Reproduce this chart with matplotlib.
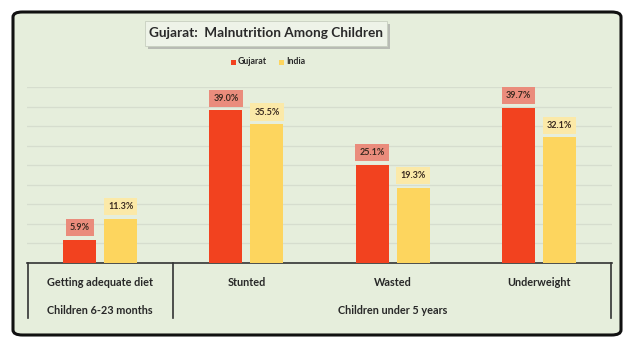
import matplotlib
matplotlib.use("Agg")
import matplotlib.pyplot as plt
import matplotlib.transforms as mtransforms
from matplotlib.patches import FancyBboxPatch
import numpy as np

categories = ["Getting adequate diet", "Stunted", "Wasted", "Underweight"]
groups = ["Children 6-23 months", "Children under 5 years"]
gujarat = [5.9, 39.0, 25.1, 39.7]
india = [11.3, 35.5, 19.3, 32.1]

red = "#f2421f"
yellow = "#fdd55e"
red_lbl = "#ea8c7c"
yel_lbl = "#fbe9a8"
bg = "#e6eedc"
txt = "#282828"

plt.rcParams["font.family"] = ["Lato", "DejaVu Sans"]

W, H = 628, 338
fig = plt.figure(figsize=(W / 100, H / 100), dpi=100)
fig.patch.set_facecolor("white")

# outer rounded frame
frame = FancyBboxPatch((13 / W, 3 / H), 608 / W, 323 / H,
                       boxstyle="round,pad=0,rounding_size=0.015",
                       transform=fig.transFigure, facecolor=bg,
                       edgecolor="#111111", linewidth=2.2, zorder=-5)
fig.patches.append(frame)

ax = fig.add_axes([27 / W, (H - 263) / H, 585 / W, 176 / H])
ax.set_facecolor("none")

x = np.arange(len(categories))
bw = 0.225
off = 0.14
ax.bar(x - off, gujarat, bw, color=red, zorder=3)
ax.bar(x + off, india, bw, color=yellow, zorder=3)

ax.set_xlim(-0.5, 3.5)
ax.set_ylim(0, 45)
ax.set_yticks(np.arange(5, 46, 5))
ax.grid(axis="y", color="#d6ddce", linewidth=0.9, zorder=0)
ax.tick_params(left=False, bottom=False, labelleft=False, labelbottom=False)
for s in ["left", "right", "top"]:
    ax.spines[s].set_visible(False)
ax.spines["bottom"].set_color("#333333")
ax.spines["bottom"].set_linewidth(1.2)

for xi, v in zip(x, gujarat):
    ax.annotate(f"{v:.1f}%", (xi - off, v), xytext=(0, 5.5), textcoords="offset points",
                ha="center", va="bottom", fontsize=6.5, fontweight="bold", color="#3a2a20",
                bbox=dict(boxstyle="square,pad=0.45", facecolor=red_lbl, edgecolor="none"))
for xi, v in zip(x, india):
    ax.annotate(f"{v:.1f}%", (xi + off, v), xytext=(0, 5.5), textcoords="offset points",
                ha="center", va="bottom", fontsize=6.5, fontweight="bold", color="#3a2a20",
                bbox=dict(boxstyle="square,pad=0.45", facecolor=yel_lbl, edgecolor="none"))

# two-level category axis
tr = mtransforms.blended_transform_factory(ax.transData, fig.transFigure)
y_top = (H - 263) / H
y_bot = (H - 318) / H
for xv in [-0.49, 0.5, 3.49]:
    ax.plot([xv, xv], [y_top, y_bot], transform=tr, color="#333333", lw=1.2, clip_on=False)
for xi, c in zip(x, categories):
    ax.text(xi, (H - 283) / H, c, transform=tr, ha="center", va="center",
            fontsize=7.8, fontweight="bold", color=txt)
ax.text(0, (H - 310) / H, groups[0], transform=tr, ha="center", va="center",
        fontsize=7.8, fontweight="bold", color=txt)
ax.text(2, (H - 310) / H, groups[1], transform=tr, ha="center", va="center",
        fontsize=7.8, fontweight="bold", color=txt)

# title with shadowed box
shadow = FancyBboxPatch((148 / W, (H - 49) / H), 242 / W, 25 / H, boxstyle="square,pad=0",
                        transform=fig.transFigure, facecolor="#9a9a9a", edgecolor="none", alpha=0.6)
box = FancyBboxPatch((145 / W, (H - 46) / H), 242 / W, 25 / H, boxstyle="square,pad=0",
                     transform=fig.transFigure, facecolor="#eef3e8", edgecolor="#c8cfc0", lw=0.6)
fig.patches.append(shadow)
fig.patches.append(box)
fig.text(266 / W, (H - 33) / H, "Gujarat:  Malnutrition Among Children", ha="center", va="center",
         fontsize=9.8, fontweight="bold", color="#2a2a2a")

# legend
ly = (H - 62) / H
fig.patches.append(FancyBboxPatch((231 / W, ly - 2.5 / H), 5 / W, 5 / H, boxstyle="square,pad=0",
                                  transform=fig.transFigure, facecolor=red, edgecolor="none"))
fig.text(238 / W, ly, "Gujarat", ha="left", va="center", fontsize=6.3, fontweight="bold", color=txt)
fig.patches.append(FancyBboxPatch((279 / W, ly - 2.5 / H), 5 / W, 5 / H, boxstyle="square,pad=0",
                                  transform=fig.transFigure, facecolor=yellow, edgecolor="none"))
fig.text(286 / W, ly, "India", ha="left", va="center", fontsize=6.3, fontweight="bold", color=txt)

fig.savefig("out.png", dpi=100, facecolor=fig.get_facecolor())
